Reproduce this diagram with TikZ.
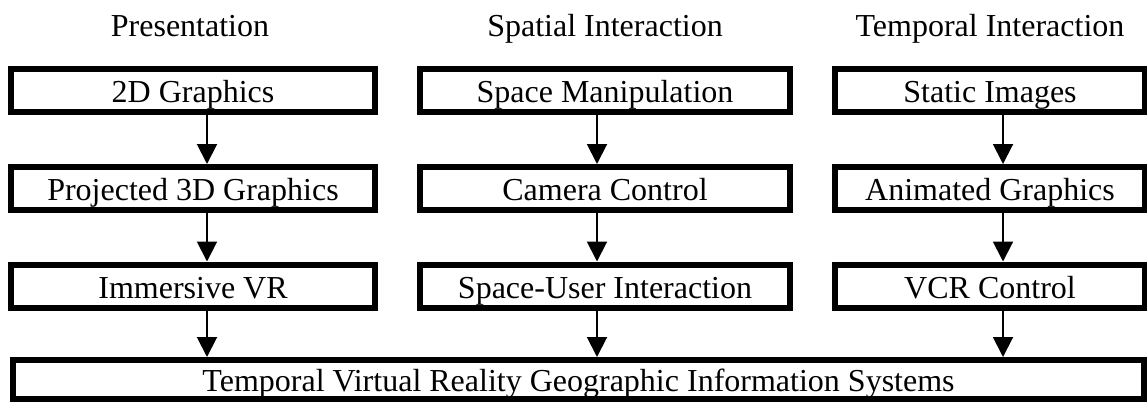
\documentclass[tikz,border=0pt]{standalone}
\usepackage{fontspec}
\setmainfont{Liberation Serif}
\usetikzlibrary{arrows.meta}
\begin{document}
\begin{tikzpicture}[x=1pt,y=-1pt,
  stagebox/.style={draw=black,line width=6pt,fill=white,inner sep=0pt,
    minimum height=43pt,text height=24pt,text depth=0pt,
    font=\fontsize{32}{36}\selectfont},
  header/.style={inner sep=0pt,text height=24pt,text depth=0pt,
    font=\fontsize{32}{36}\selectfont},
  flow/.style={line width=2pt,-{Triangle[length=20pt,width=20pt]}}]
\useasboundingbox (0,0) rectangle (1147,402);
% column headings
\node[header] (h1) at (190,24) {Presentation};
\node[header] (h2) at (605,24) {Spatial Interaction};
\node[header] (h3) at (990,24) {Temporal Interaction};
% presentation column
\node[stagebox,minimum width=364pt] (p1) at (193,90.5) {2D Graphics};
\node[stagebox,minimum width=364pt] (p2) at (193,188.5) {Projected 3D Graphics};
\node[stagebox,minimum width=364pt] (p3) at (193,286) {Immersive VR};
% spatial interaction column
\node[stagebox,minimum width=370pt] (s1) at (605,90) {Space Manipulation};
\node[stagebox,minimum width=370pt] (s2) at (605,188.5) {Camera Control};
\node[stagebox,minimum width=370pt] (s3) at (605,286) {Space-User Interaction};
% temporal interaction column
\node[stagebox,minimum width=310pt] (t1) at (990,90) {Static Images};
\node[stagebox,minimum width=310pt] (t2) at (990,188.5) {Animated Graphics};
\node[stagebox,minimum width=310pt] (t3) at (990,286) {VCR Control};
% combined system
\node[stagebox,minimum width=1131pt,minimum height=39pt] (sys) at (578.5,379.5)
  {Temporal Virtual Reality Geographic Information Systems};
% connectors
\foreach \a/\b in {p1/p2,p2/p3,p3/sys}
  \draw[flow] ([xshift=14pt]\a.south) -- ([xshift=14pt]\a.south |- \b.north);
\foreach \a/\b in {s1/s2,s2/s3,s3/sys}
  \draw[flow] ([xshift=-8pt]\a.south) -- ([xshift=-8pt]\a.south |- \b.north);
\foreach \a/\b in {t1/t2,t2/t3,t3/sys}
  \draw[flow] ([xshift=13pt]\a.south) -- ([xshift=13pt]\a.south |- \b.north);
\end{tikzpicture}
\end{document}
